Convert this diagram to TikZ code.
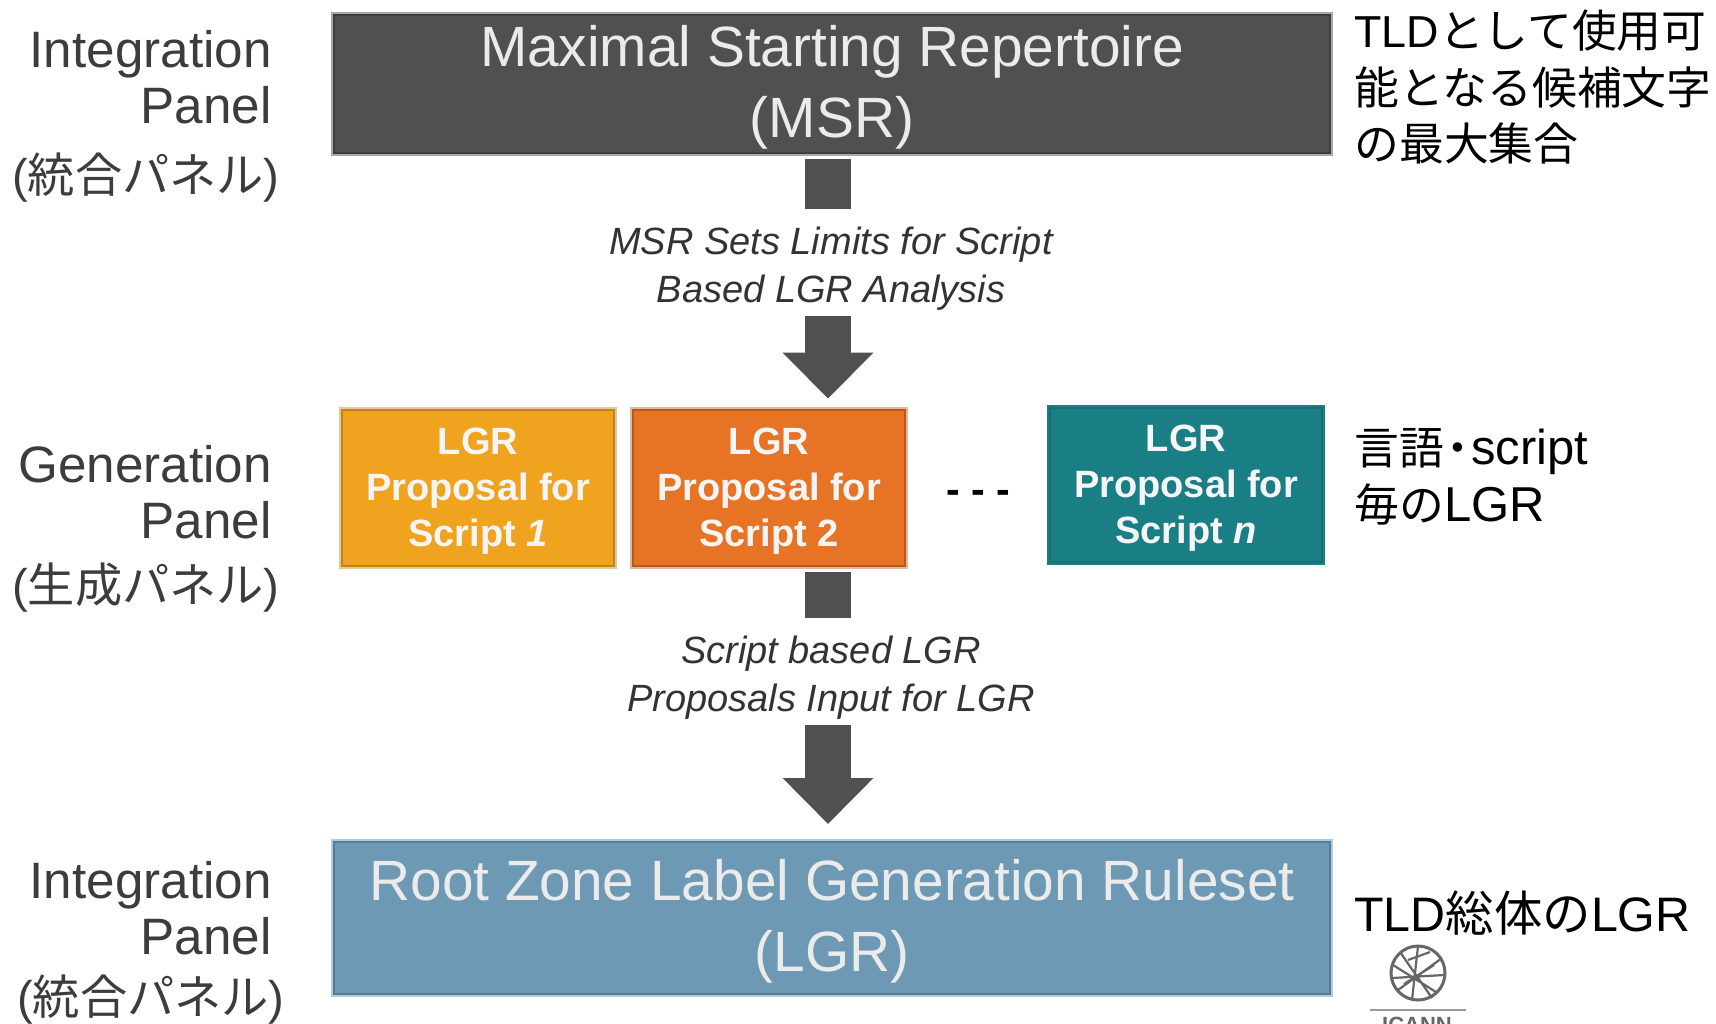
\documentclass[tikz,border=0pt]{standalone}
\usepackage{fontspec}
\setmainfont{Liberation Sans}
\newfontfamily\cjk{Noto Sans CJK JP}
\usetikzlibrary{arrows.meta,calc}
\definecolor{cdark}{HTML}{505050}
\definecolor{cdarkb}{HTML}{3E3E3E}
\definecolor{cdarkl}{HTML}{A8A8A8}
\definecolor{cblue}{HTML}{6D99B4}
\definecolor{cblueb}{HTML}{517F9B}
\definecolor{cbluel}{HTML}{B5C9D6}
\definecolor{cyel}{HTML}{F0A31F}
\definecolor{cyelb}{HTML}{C1841A}
\definecolor{cyell}{HTML}{E3C79A}
\definecolor{corg}{HTML}{E67424}
\definecolor{corgb}{HTML}{B55A1C}
\definecolor{corgl}{HTML}{E0B79A}
\definecolor{cteal}{HTML}{1A7F85}
\definecolor{ctealb}{HTML}{176F75}
\definecolor{ctextg}{HTML}{3C3C3C}
\tikzset{
  x=0.5pt,y=-0.5pt,
  panel/.style n args={3}{rectangle,inner sep=0pt,fill=#1,draw=#2,line width=1.4pt,
    preaction={draw=#3,line width=3pt}},
  big/.style={text=white!92!black,align=center,font=\fontsize{28.4}{35.6}\selectfont},
  prop/.style={text=white!96!black,align=center,minimum width=136pt,minimum height=78pt,
    font=\bfseries\fontsize{19}{23}\selectfont},
  note/.style={text=ctextg!85!black,align=center,minimum height=50pt,
    font=\itshape\fontsize{19}{24}\selectfont},
  leftlab/.style={text=ctextg,align=right,anchor=east,inner sep=0pt,font=\fontsize{25.6}{28.3}\selectfont},
  leftcjk/.style={text=ctextg,anchor=east,inner sep=0pt,font=\fontsize{23.6}{28}\selectfont},
  rightlab/.style={text=black,align=left,anchor=west,inner sep=0pt,font=\fontsize{22.4}{28.3}\selectfont},
  blockstub/.style={draw=cdark,line width=23pt,shorten >=5pt,shorten <=2.5pt},
  blockarrow/.style={draw=cdark,fill=cdark,line width=23pt,-{Triangle[length=23pt,width=44pt]},shorten <=-1.5pt},
}
\begin{document}
\begin{tikzpicture}
\clip (0,0) rectangle (1716,1023);
\useasboundingbox (0,0) rectangle (1716,1023);
\fill[white] (0,0) rectangle (1716,1023);
% panels
\node[panel={cdark}{cdarkb}{cdarkl},minimum width=498pt,minimum height=69pt,big] (msr) at (832,84) {\rule{0pt}{24pt}Maximal Starting Repertoire\\(MSR)};
\node[panel={cyel}{cyelb}{cyell},prop] (p1) at (478,488) {\rule{0pt}{16.5pt}LGR\\Proposal for\\Script \textit{1}};
\node[panel={corg}{corgb}{corgl},prop] (p2) at (769,488) {\rule{0pt}{16.5pt}LGR\\Proposal for\\Script 2};
\node[panel={cteal}{ctealb}{cteal},prop,minimum height=77pt] (p3) at (1186,485) {\rule{0pt}{16.5pt}LGR\\Proposal for\\Script \textit{n}};
\node[inner sep=0pt,font=\bfseries\fontsize{20.5}{24}\selectfont] (dots) at (978,497) {- - -};
\node[panel={cblue}{cblueb}{cbluel},minimum width=498pt,minimum height=76pt,big] (lgr) at (832,918) {\rule{0pt}{24pt}Root Zone Label Generation Ruleset\\(LGR)};
% notes
\node[note] (n1) at (831,269) {MSR Sets Limits for Script\\Based LGR Analysis};
\node[note] (n2) at (831,678) {Script based LGR\\Proposals Input for LGR};
% connectors
\coordinate (ax) at (828,0);
\draw[blockstub] (msr.south -| ax) -- (n1.north -| ax);
\draw[blockarrow,shorten >=5pt] (n1.south -| ax) -- (p2.north -| ax);
\draw[blockstub] (p2.south -| ax) -- (n2.north -| ax);
\draw[blockarrow,shorten >=8.3pt] (n2.south -| ax) -- (lgr.north -| ax);
% left labels
\node[leftlab] (l1) at (272,77) {Integration\\Panel};
\node[leftcjk] (l1b) at (280,178) {(\cjk 統合パネル\rmfamily)};
\node[leftlab] (l2) at (272,492) {Generation\\Panel};
\node[leftcjk] (l2b) at (280,588) {(\cjk 生成パネル\rmfamily)};
\node[leftlab] (l3) at (272,908) {Integration\\Panel};
\node[leftcjk] (l3b) at (285,1000) {(\cjk 統合パネル\rmfamily)};
% right labels
\node[rightlab] (r1) at (1354,87) {TLD{\cjk として使用可}\\{\cjk 能となる候補文字}\\{\cjk の最大集合}};
\node[rightlab] (r2) at (1354,477) {{\cjk 言語\makebox[13.5pt][c]{・}}{\fontsize{24.5}{28.3}\selectfont script}\\{\cjk 毎の}{\fontsize{24.5}{28.3}\selectfont LGR}};
\node[rightlab,font=\fontsize{24.2}{28.3}\selectfont] (r3) at (1354,913) {TLD{\cjk 総体の}LGR};
% logo
\begin{scope}[draw=black!60,line width=1.5pt]
\coordinate (g) at (1418,973);
\draw (g) circle[radius=27];
\draw[line width=1.1pt] (1393,965) -- (1436,992) (1398,990) -- (1442,958) (1400,952) -- (1432,998) (1418,946) -- (1412,1000) (1392,978) -- (1444,975) (1408,960) -- (1430,952) (1404,984) -- (1434,965);
\draw[draw=black!40,line width=1pt] (1370,1010) -- (1466,1010);
\end{scope}
\node[inner sep=0pt,text=black!60,font=\bfseries\fontsize{11}{12}\selectfont] (icann) at (1417,1025) {ICANN};
\end{tikzpicture}
\end{document}
